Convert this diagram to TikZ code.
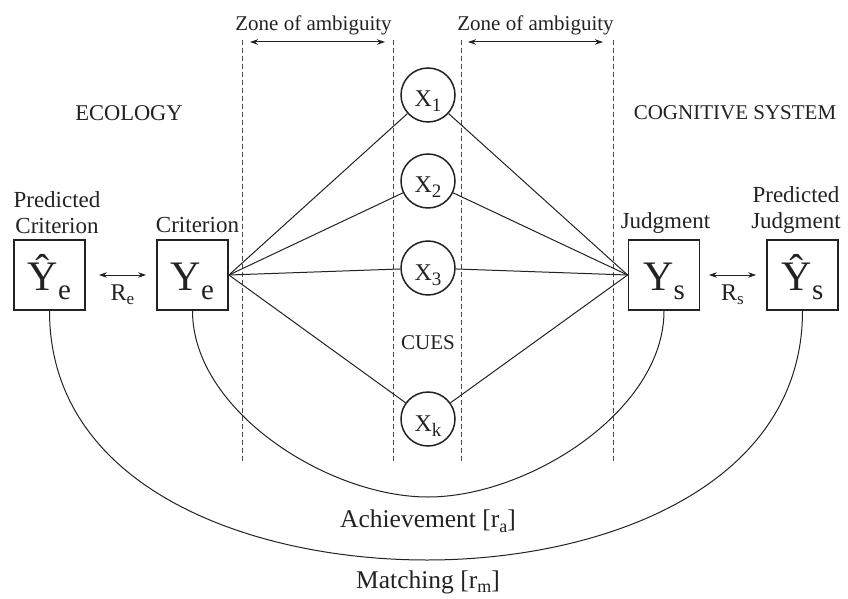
\documentclass[tikz,border=0pt]{standalone}
\usepackage{fontspec}
\setmainfont{Liberation Serif}
\usetikzlibrary{arrows.meta}
\definecolor{ink}{HTML}{222222}
\newcommand{\lowsub}[3]{\raisebox{-#2pt}{\fontsize{#1}{#1}\selectfont #3}}

\begin{document}
\begin{tikzpicture}[x=1pt, y=1pt, >={Stealth[length=8pt,width=5.5pt]},
  txt/.style={font=\fontsize{21}{26}\selectfont, text=ink, inner sep=1pt},
  tag/.style={txt, font=\fontsize{23}{26}\selectfont},
  bigtxt/.style={txt, font=\fontsize{25.5}{28}\selectfont},
  varbox/.style={draw=ink, line width=1.8pt, minimum width=71pt, minimum height=70pt,
    inner sep=0pt, text height=30pt, text depth=0pt, text=ink, font=\fontsize{42}{42}\selectfont},
  cue/.style={circle, draw=ink, line width=1.5pt, minimum size=54pt, inner sep=0pt,
    text height=24pt, text depth=0pt, text=ink, font=\fontsize{24}{24}\selectfont},
  zone/.style={dash pattern=on 5pt off 3pt, line width=1pt, gray!60!black},
  edge/.style={draw=ink, line width=1pt},
  link/.style={<->, draw=ink, line width=1pt}]
\useasboundingbox (0,0) rectangle (848,598);
\node[varbox] (Yhe) at (49.5,323) {\^{Y}\lowsub{29}{9}{e}};
\node[varbox] (Ye) at (192.5,323) {Y\lowsub{29}{9}{e}};
\node[varbox] (Ys) at (664,323) {Y\lowsub{29}{9}{s}};
\node[varbox] (Yhs) at (802.5,323) {\^{Y}\lowsub{29}{9}{s}};
\node[tag, align=center] (lpc) at (57,385) {Predicted\\Criterion};
\node[tag] (lc) at (197.5,373) {Criterion};
\node[tag] (lj) at (665.5,375) {Judgment};
\node[tag, align=center] (lpj) at (796,388) {Predicted\\Judgment};
\node[txt, font=\fontsize{22.5}{26}\selectfont] (eco) at (129,485) {ECOLOGY};
\node[txt] (cog) at (735,485) {COGNITIVE SYSTEM};
\draw[link] ([xshift=13pt]Yhe.east) -- ([xshift=-10pt]Ye.west)
  node[tag, midway, below=8pt, font=\fontsize{24}{24}\selectfont] {R\lowsub{17}{4}{e}};
\draw[link] ([xshift=8.5pt]Ys.east) -- ([xshift=-10pt]Yhs.west)
  node[tag, midway, below=8pt, font=\fontsize{24}{24}\selectfont] {R\lowsub{17}{4}{s}};
\foreach \n/\x in {a/242,b/393,c/461,d/613}
  {\coordinate (z\n) at (\x,558); \coordinate (w\n) at (\x,136);
   \draw[zone] (z\n) -- (w\n);}
\draw[link] ([xshift=8pt,yshift=-2pt]za) -- ([xshift=-8pt,yshift=-2pt]zb)
  node[txt, midway, above=5pt, xshift=-4pt] {Zone of ambiguity};
\draw[link] ([xshift=7pt,yshift=-2pt]zc) -- ([xshift=-10pt,yshift=-2pt]zd)
  node[txt, midway, above=5pt] {Zone of ambiguity};
\foreach \n/\y in {1/503,2/417,3/330,k/179}
  {\node[cue] (x\n) at (428,\y) {X\lowsub{19}{5}{\n}};
   \draw[edge] (Ye.east) -- (x\n) (x\n) -- (Ys.west);}
\node[txt] (cues) at (428,255) {CUES};
\coordinate (ach) at (428,101);
\coordinate (mat) at (427,38);
\draw[edge] (Ye.south) to[out=-90,in=180,looseness=0.85] (ach)
  to[out=0,in=-90,looseness=0.85] (Ys.south);
\draw[edge] (Yhe.south) to[out=-90,in=180] (mat) to[out=0,in=-90] (Yhs.south);
\node[bigtxt] (lach) at (428,77) {Achievement [r\lowsub{18}{5}{a}]};
\node[bigtxt] (lmat) at (428,16) {Matching [r\lowsub{18}{4}{m}]};
\end{tikzpicture}
\end{document}
